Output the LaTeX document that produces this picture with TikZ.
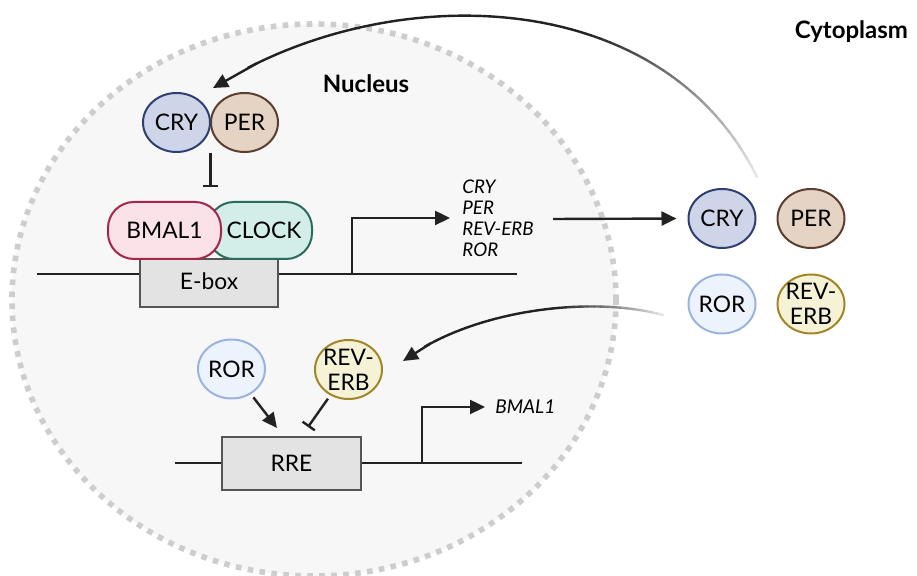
\documentclass[tikz,border=0pt]{standalone}
\usepackage{fontspec}
\setmainfont{Lato}
\usetikzlibrary{arrows.meta,shapes.geometric,calc}

\definecolor{ink}{HTML}{222222}
\definecolor{nucfill}{HTML}{F7F7F7}
\definecolor{nucdots}{HTML}{CDCDCD}
\definecolor{cryfill}{HTML}{CFD5E8}
\definecolor{cryline}{HTML}{2F3F72}
\definecolor{perfill}{HTML}{E5D3C3}
\definecolor{perline}{HTML}{5B3E2F}
\definecolor{bmalfill}{HTML}{FBE1E8}
\definecolor{bmalline}{HTML}{A3264B}
\definecolor{clockfill}{HTML}{D3EDE8}
\definecolor{clockline}{HTML}{2B6B5C}
\definecolor{rorfill}{HTML}{EDF3FC}
\definecolor{rorline}{HTML}{9AB3DE}
\definecolor{revfill}{HTML}{F6F2D6}
\definecolor{revline}{HTML}{A08628}
\definecolor{boxfill}{HTML}{E3E3E3}
\definecolor{boxline}{HTML}{555555}

\tikzset{
  prot/.style={ellipse, draw, line width=1pt, minimum width=33.5pt, minimum height=29.5pt,
    inner sep=-1.5pt, align=center, font=\fontsize{11.4}{12.5}\selectfont},
  pill/.style={rectangle, rounded corners=13pt, draw, line width=1pt, minimum height=28.5pt,
    inner sep=0pt, font=\fontsize{11.4}{13}\selectfont},
  elem/.style={rectangle, draw=boxline, fill=boxfill, line width=1pt, inner sep=0pt,
    font=\fontsize{11.4}{13}\selectfont},
  dna/.style={line width=1.25pt, draw=ink},
  act/.style={line width=1.2pt, draw=ink, -{Triangle[length=7.5pt,width=7pt]}},
  inh/.style={line width=1.2pt, draw=ink, -{Bar[width=7.5pt,line width=1.2pt]}},
  title/.style={font=\fontsize{12}{14}\selectfont\bfseries},
  gene/.style={font=\fontsize{9.4}{10.5}\selectfont\itshape, inner sep=0pt, align=left}
}

\begin{document}
\begin{tikzpicture}[x=0.5pt,y=-0.5pt]
\useasboundingbox (0,0) rectangle (917,576);

% nucleus
\fill[nucfill] (314,300) ellipse [x radius=151pt, y radius=138pt];
\draw[nucdots, line width=2.8pt, dash pattern=on 2.8pt off 3.2pt] (314,300) ellipse [x radius=151pt, y radius=138pt];
\node[title] (nucLbl) at (366,84) {Nucleus};
\node[title, anchor=east] (cytLbl) at (915,32) {Cytoplasm};

% E-box gene
\coordinate (dnaA1) at (37,274);
\coordinate (dnaA2) at (517,274);
\coordinate (promA) at (352,274);
\draw[dna] (dnaA1) -- (dnaA2);
\node[elem, minimum width=69pt, minimum height=24pt] (ebox) at (209,283) {\raisebox{2pt}{E-box}};
\node[pill, draw=clockline, fill=clockfill, minimum width=52pt] (clock) at (260,230.5) {\hspace{4pt}CLOCK};
\node[pill, draw=bmalline, fill=bmalfill, minimum width=56.5pt] (bmal) at (164.5,230.5) {BMAL1};
\node[prot, draw=perline, fill=perfill] (nPER) at (244.5,122.5) {PER};
\node[prot, draw=cryline, fill=cryfill] (nCRY) at (176.5,122.5) {CRY};
\coordinate (dimer) at ($(nCRY.south)!0.5!(nPER.south)$);
\coordinate (bmalBar) at (210.5,187);
\draw[inh] (dimer) -- (bmalBar);

\node[gene, anchor=west] (genes) at (462,218) {CRY\\PER\\REV-ERB\\ROR};
\draw[act, shorten >=6pt] (promA) |- (genes.west);

% cytoplasm proteins
\node[prot, draw=cryline, fill=cryfill] (cCRY) at (722,218.5) {CRY};
\node[prot, draw=perline, fill=perfill] (cPER) at (811,218.5) {PER};
\node[prot, draw=rorline, fill=rorfill] (cROR) at (722,304) {ROR};
\node[prot, draw=revline, fill=revfill] (cREV) at (811,304) {REV-\\ERB};
\coordinate (geneOut) at (553,219);
\draw[act, shorten >=5.5pt] (geneOut) -- (cCRY.west);

% RRE gene
\coordinate (dnaB1) at (175,463);
\coordinate (dnaB2) at (522,463);
\coordinate (promB) at (422,463);
\draw[dna] (dnaB1) -- (dnaB2);
\node[elem, minimum width=69.5pt, minimum height=26.5pt] (rre) at (291.5,463.5) {RRE};
\node[gene, anchor=west, font=\fontsize{9.5}{11}\selectfont\itshape] (bmalTxt) at (495,407) {BMAL1};
\draw[act, shorten >=5pt] (promB) |- (bmalTxt.west);

\node[prot, draw=rorline, fill=rorfill] (nROR) at (231.5,369) {ROR};
\node[prot, draw=revline, fill=revfill] (nREV) at (348.5,369.5) {REV-\\ERB};
\coordinate (rorTip) at (277,428);
\coordinate (revBar) at (308,427);
\draw[act, shorten <=2pt] (nROR) -- (rorTip);
\draw[inh, shorten <=2pt] (nREV) -- (revBar);

% import arrows, fading towards the cytoplasm
\coordinate (upTail) at (757,177);
\coordinate (upHead) at (213,88);
\foreach \i [evaluate=\i as \pp using \i/60] in {0,...,60}
  \path (upTail) .. controls (660,-20) and (380,-20) .. (upHead) coordinate[pos=\pp] (u\i);
\foreach \i [count=\j, evaluate=\i as \gry using {min(100,12+88*\i/22)}] in {0,...,55}
  \draw[line width=1.2pt, line cap=round, draw=ink!\gry] (u\i) -- (u\j);
\draw[act] (u55) -- (upHead);

\coordinate (lowTail) at (663,315);
\coordinate (lowHead) at (403,361);
\foreach \i [evaluate=\i as \pp using \i/40] in {0,...,40}
  \path (lowTail) .. controls (590,295) and (470,310) .. (lowHead) coordinate[pos=\pp] (l\i);
\foreach \i [count=\j, evaluate=\i as \gry using {min(100,12+88*\i/16)}] in {0,...,35}
  \draw[line width=1.2pt, line cap=round, draw=ink!\gry] (l\i) -- (l\j);
\draw[act] (l35) -- (lowHead);
\end{tikzpicture}
\end{document}
